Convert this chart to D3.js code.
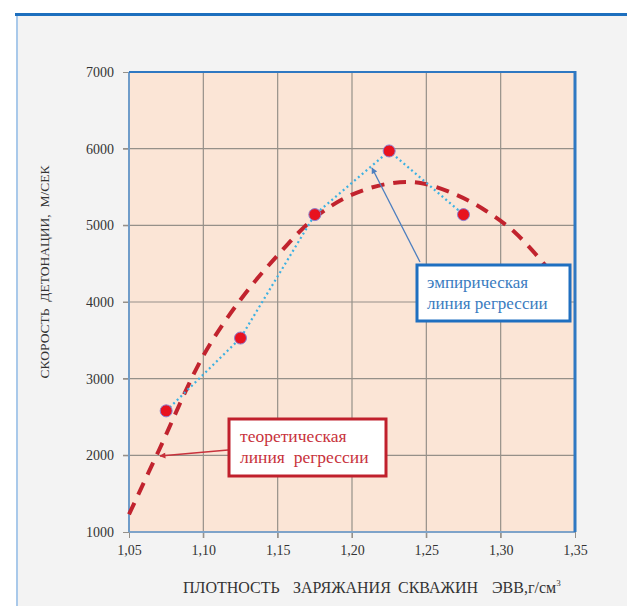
<!DOCTYPE html>
<html>
<head>
<meta charset="utf-8">
<script src="https://cdn.jsdelivr.net/npm/d3@7"></script>
<style>
  body { margin: 0; background: #fff; }
</style>
</head>
<body>
<svg id="chart" width="627" height="606"></svg>
<script>
// empirical points (density, detonation speed)
var empX = [1.075, 1.125, 1.175, 1.225, 1.275];
var empY = [2580, 3530, 5140, 5970, 5140];

// theoretical regression curve
var theoX = [1.05, 1.07, 1.10, 1.125, 1.15, 1.175, 1.20, 1.225, 1.245, 1.27, 1.29, 1.31, 1.33];
var theoY = [1230, 2060, 3300, 4030, 4610, 5100, 5400, 5545, 5555, 5400, 5190, 4900, 4480];

var xTicks = [1.05, 1.10, 1.15, 1.20, 1.25, 1.30, 1.35];
var yTicks = [1000, 2000, 3000, 4000, 5000, 6000, 7000];

// x title words (spread out like the original)
var xTitleWords = ["ПЛОТНОСТЬ", "ЗАРЯЖАНИЯ", "СКВАЖИН", "ЭВВ,г/см"];
var xTitlePos = [183, 293, 398, 492];

var svg = d3.select("#chart");

var x = d3.scaleLinear().domain([1.05, 1.35]).range([129, 575]);
var y = d3.scaleLinear().domain([1000, 7000]).range([532, 72]);

// outer panel
svg.append("rect").attr("x", 16).attr("y", 13).attr("width", 611).attr("height", 593).attr("fill", "#f3f3f3");
svg.append("line").attr("x1", 17).attr("x2", 17).attr("y1", 14).attr("y2", 606)
    .attr("stroke", "#a9c9ea").attr("stroke-width", 2);
svg.append("line").attr("x1", 15).attr("x2", 627).attr("y1", 14.5).attr("y2", 14.5)
    .attr("stroke", "#1d6fbe").attr("stroke-width", 3);

var defs = svg.append("defs");
function marker(id, col) {
    defs.append("marker").attr("id", id)
        .attr("viewBox", "0 0 10 10").attr("refX", 9).attr("refY", 5)
        .attr("markerWidth", 7).attr("markerHeight", 6).attr("orient", "auto")
        .attr("markerUnits", "userSpaceOnUse")
        .append("path").attr("d", "M0,0 L10,5 L0,10 z").attr("fill", col);
}
marker("arrRed", "#c8323c");
marker("arrBlue", "#4d7fbf");

// plot background
svg.append("rect").attr("x", x(1.05)).attr("y", y(7000))
    .attr("width", x(1.35) - x(1.05)).attr("height", y(1000) - y(7000))
    .attr("fill", "#fbe5d6");

// grid
var grid = svg.append("g").attr("stroke", "#959089").attr("stroke-width", 1.2);
grid.selectAll(".gx").data(xTicks.slice(1, -1)).enter().append("line")
    .attr("x1", function(d) { return x(d); }).attr("x2", function(d) { return x(d); })
    .attr("y1", y(7000)).attr("y2", y(1000) + 6);
grid.selectAll(".gy").data(yTicks.slice(1, -1)).enter().append("line")
    .attr("x1", x(1.05) - 6).attr("x2", x(1.35))
    .attr("y1", function(d) { return y(d); }).attr("y2", function(d) { return y(d); });

// axes (ticks + labels)
var xAxis = d3.axisBottom(x).tickValues(xTicks).tickSize(6).tickPadding(7)
    .tickFormat(function(d) { return d3.format(".2f")(d).replace(".", ","); });
var gx = svg.append("g").attr("transform", "translate(0," + y(1000) + ")").call(xAxis);
gx.select(".domain").remove();
gx.selectAll("line").attr("stroke", "#959089");
gx.selectAll("text").attr("font-size", 14).attr("fill", "#333");

var yAxis = d3.axisLeft(y).tickValues(yTicks).tickSize(6).tickPadding(9).tickFormat(d3.format("d"));
var gy = svg.append("g").attr("transform", "translate(" + x(1.05) + ",0)").call(yAxis);
gy.select(".domain").remove();
gy.selectAll("line").attr("stroke", "#959089");
gy.selectAll("text").attr("font-size", 14).attr("fill", "#333");

// plot borders
svg.append("line").attr("x1", x(1.05)).attr("x2", x(1.35)).attr("y1", y(1000)).attr("y2", y(1000))
    .attr("stroke", "#7ea3c9").attr("stroke-width", 2);
svg.append("line").attr("x1", x(1.05)).attr("x2", x(1.05)).attr("y1", y(7000)).attr("y2", y(1000))
    .attr("stroke", "#6f9cc9").attr("stroke-width", 2);
svg.append("line").attr("x1", x(1.05)).attr("x2", x(1.35)).attr("y1", y(7000)).attr("y2", y(7000))
    .attr("stroke", "#2f78c2").attr("stroke-width", 2);
svg.append("line").attr("x1", x(1.35)).attr("x2", x(1.35)).attr("y1", y(7000) - 1).attr("y2", y(1000))
    .attr("stroke", "#2f78c2").attr("stroke-width", 3);

// theoretical curve
var theo = theoX.map(function(d, i) { return [d, theoY[i]]; });
svg.append("path").datum(theo)
    .attr("d", d3.line().x(function(d) { return x(d[0]); }).y(function(d) { return y(d[1]); })
        .curve(d3.curveCatmullRom))
    .attr("fill", "none").attr("stroke", "#c1232e").attr("stroke-width", 4)
    .attr("stroke-dasharray", "13,9");

// empirical line
var emp = empX.map(function(d, i) { return [d, empY[i]]; });
svg.append("path").datum(emp)
    .attr("d", d3.line().x(function(d) { return x(d[0]); }).y(function(d) { return y(d[1]); }))
    .attr("fill", "none").attr("stroke", "#3db1e2").attr("stroke-width", 2.2)
    .attr("stroke-dasharray", "2,3");

svg.selectAll(".pt").data(emp).enter().append("circle")
    .attr("cx", function(d) { return x(d[0]); }).attr("cy", function(d) { return y(d[1]); })
    .attr("r", 6).attr("fill", "#e8121e").attr("stroke", "#8a7fd0").attr("stroke-width", 1);

// annotations
svg.append("line").attr("x1", 228).attr("y1", 450).attr("x2", 160).attr("y2", 456)
    .attr("stroke", "#c8323c").attr("stroke-width", 1.3).attr("marker-end", "url(#arrRed)");
svg.append("line").attr("x1", 420).attr("y1", 262).attr("x2", 372).attr("y2", 168)
    .attr("stroke", "#4d7fbf").attr("stroke-width", 1.3).attr("marker-end", "url(#arrBlue)");

svg.append("rect").attr("x", 229).attr("y", 419).attr("width", 157).attr("height", 57)
    .attr("fill", "#fff").attr("stroke", "#c0202c").attr("stroke-width", 3);
svg.append("text").attr("x", 240).attr("y", 442).attr("font-size", 17.5).attr("fill", "#c8323c")
    .text("теоретическая");
svg.append("text").attr("x", 240).attr("y", 463).attr("font-size", 17.5).attr("fill", "#c8323c")
    .style("white-space", "pre").text("линия  регрессии");

svg.append("rect").attr("x", 417).attr("y", 265).attr("width", 153).attr("height", 56)
    .attr("fill", "#fff").attr("stroke", "#1f6fc0").attr("stroke-width", 3);
svg.append("text").attr("x", 427).attr("y", 288).attr("font-size", 17).attr("fill", "#3a7cc0")
    .text("эмпирическая");
svg.append("text").attr("x", 427).attr("y", 309).attr("font-size", 17).attr("fill", "#3a7cc0")
    .text("линия регрессии");

// axis titles
var xt = svg.append("text").attr("y", 593).attr("font-size", 16).attr("fill", "#333");
xt.selectAll("tspan.w").data(xTitleWords).enter().append("tspan")
    .attr("class", "w")
    .attr("x", function(d, i) { return xTitlePos[i]; })
    .text(function(d) { return d; });
xt.append("tspan").attr("dy", -7).attr("font-size", 9).text("3");

svg.append("text").attr("transform", "translate(49,272) rotate(-90)")
    .attr("text-anchor", "middle").attr("font-size", 13.5).attr("fill", "#333")
    .style("white-space", "pre").text("СКОРОСТЬ  ДЕТОНАЦИИ,  М/СЕК");

// serif everywhere (inline style so it beats the axis' sans-serif attribute)
svg.selectAll("text").style("font-family", "'Liberation Serif'");
</script>
</body>
</html>
